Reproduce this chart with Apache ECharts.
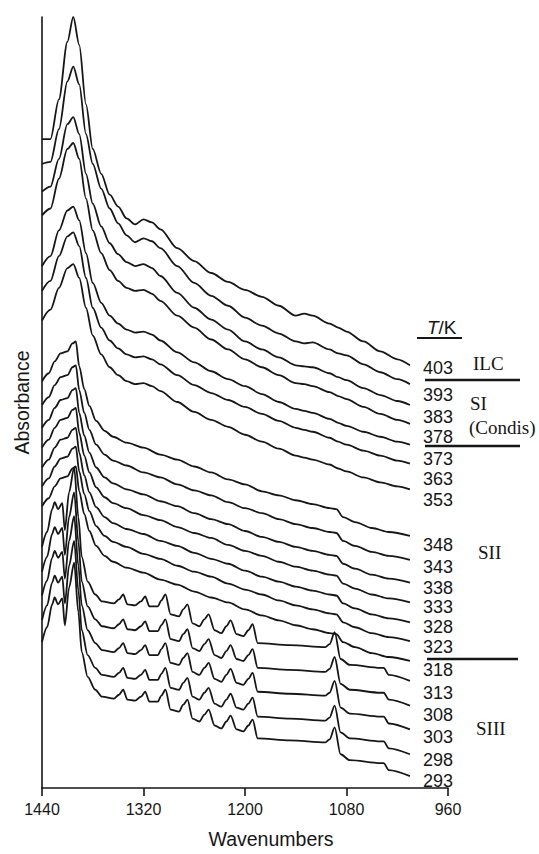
<!DOCTYPE html>
<html><head><meta charset="utf-8">
<script src="https://cdn.jsdelivr.net/npm/echarts@6/dist/echarts.min.js"></script>
<style>html,body{margin:0;padding:0;background:#fff;}#c{width:539px;height:854px;}</style>
</head><body><div id="c"></div>
<script>
// Wavenumber grids (cm-1)
const wnA = [1440,1430,1420,1410,1403,1396,1388,1380,1370,1360,1350,1340,1330,1320,1310,1300,1280,1260,1240,1220,1200,1180,1160,1140,1130,1120,1100,1090,1080,1060,1040,1020,1005];
const wnII = [1440,1432,1425,1418,1410,1404,1400,1396,1390,1384,1376,1366,1356,1340,1320,1300,1280,1260,1240,1220,1200,1180,1160,1140,1120,1100,1092,1084,1070,1050,1030,1005];
const wnIII = [1440,1434,1428,1425,1421,1416,1413,1408,1402,1397,1393,1386,1377,1369,1355,1349,1344,1339,1330,1323,1318,1313,1303,1299,1294,1288,1278,1273,1268,1262,1254,1248,1243,1236,1228,1222,1217,1210,1202,1196,1191,1185,1147,1105,1100,1094,1087,1076,1040,1036,1030,1005];

// Absorbance (arbitrary units, stacked)
const abs403 = [654,654,694,752,777,749,689,644,619,598,586,574,568,573,570,563,544,531,519,510,502,495,486,476,478,476,468,464,460,450,440,432,426];
const abs393 = [629,631,664,712,727,709,659,629,604,584,569,557,550,554,551,544,526,509,496,486,474,466,458,450,448,449,442,438,436,427,419,412,407];
const abs383 = [601,606,634,669,676,659,619,589,566,549,538,530,526,528,524,516,499,484,472,462,450,442,434,426,425,424,418,414,411,403,396,390,386];
const abs378 = [577,584,614,644,650,634,594,562,539,522,511,504,501,502,498,491,476,464,452,442,432,424,416,408,407,405,399,395,392,384,377,371,367];
const abs373 = [526,536,562,582,586,572,539,509,489,476,468,462,459,460,457,451,439,429,420,412,405,397,389,382,380,378,372,368,365,359,354,349,346];
const abs363 = [501,511,536,556,560,546,514,484,464,451,443,437,434,435,432,427,416,406,398,391,384,377,370,363,361,359,353,349,346,340,335,330,327];
const abs353 = [471,482,504,524,528,514,484,456,437,424,416,410,407,408,405,400,389,379,371,364,356,349,342,335,333,331,326,322,319,313,308,304,301];

const abs348 = [410,418,430,438,440,448,450,425,402,385,370,360,354,348,343,336,331,324,318,311,306,299,295,290,286,282,281,273,268,262,258,254];
const abs343 = [386,394,406,414,416,424,426,401,378,361,346,336,330,325,318,313,306,300,295,288,282,277,271,266,262,258,257,249,244,238,234,230];
const abs338 = [363,371,383,391,393,401,403,378,355,338,323,313,307,301,296,289,284,277,271,266,259,253,248,243,239,235,234,226,221,215,211,207];
const abs333 = [343,351,363,371,373,381,383,358,335,318,303,293,287,282,275,270,263,257,252,245,239,234,228,223,219,215,214,206,201,195,191,187];
const abs328 = [323,331,343,351,353,361,363,338,315,298,283,273,267,261,256,249,244,237,231,226,219,213,208,203,199,195,194,186,181,175,171,167];
const abs323 = [304,312,324,332,334,342,344,319,296,279,264,254,248,243,236,231,224,218,213,206,200,195,189,184,180,176,175,167,162,156,152,148];
const abs318 = [284,292,304,312,314,322,324,299,276,259,244,234,228,222,217,210,205,198,192,187,180,174,169,164,160,156,155,147,142,136,132,128];

const abs313 = [243,258,281,288,281,287,260,298,323,273,233,208,195,188,186,190,195,185,184,188,193,183,183,189,195,175,173,180,185,166,163,170,175,159,156,163,169,155,153,159,165,146,144,142,145,157,130,124,121,121,114,108];
const abs308 = [218,233,256,263,256,262,235,273,298,248,208,183,170,163,161,165,170,160,159,163,168,158,158,164,170,150,148,155,160,141,138,145,150,134,131,138,144,130,128,134,140,121,119,117,120,132,105,99,96,96,89,83];
const abs303 = [194,209,232,239,232,238,211,249,274,224,184,159,146,139,137,141,146,136,135,139,144,134,134,140,146,126,124,131,136,117,114,121,126,110,107,114,120,106,104,110,116,97,95,93,96,108,81,75,72,72,65,59];
const abs298 = [169,184,207,214,207,213,186,224,249,199,159,134,121,114,112,116,121,111,110,114,119,109,109,115,121,101,99,106,111,92,89,96,101,85,82,89,95,81,79,85,91,72,70,68,71,83,56,50,47,47,40,34];
const abs293 = [147,162,185,192,185,191,164,202,227,177,137,112,99,92,90,94,99,89,88,92,97,87,87,93,99,79,77,84,89,70,67,74,79,63,60,67,73,59,57,63,69,50,48,46,49,61,34,28,25,25,18,12];

const temps = ['403','393','383','378','373','363','353','348','343','338','333','328','323','318','313','308','303','298','293'];
const spectra = [
  [wnA,abs403],[wnA,abs393],[wnA,abs383],[wnA,abs378],[wnA,abs373],[wnA,abs363],[wnA,abs353],
  [wnII,abs348],[wnII,abs343],[wnII,abs338],[wnII,abs333],[wnII,abs328],[wnII,abs323],[wnII,abs318],
  [wnIII,abs313],[wnIII,abs308],[wnIII,abs303],[wnIII,abs298],[wnIII,abs293]
];
const xTicks = [1440,1320,1200,1080,960];

// layout (pixels) for annotations
const labelY = [368,395,417,437,459,479,500,545,567,588,607,627,647,670,693,715,737,760,781];
const SANS = '"Liberation Sans", Arial, Helvetica, sans-serif';
const SERIF = '"Liberation Serif", "Times New Roman", serif';
const INK = '#161616';

const chart = echarts.init(document.getElementById('c'), null, {renderer:'svg'});

const series = spectra.map((s, k) => ({
  name: temps[k] + ' K',
  type: 'line',
  data: s[0].map((w, i) => [w, s[1][i]]),
  showSymbol: false,
  symbol: 'none',
  smooth: 0.3,
  smoothMonotone: 'x',
  lineStyle: {color: INK, width: 1.8},
  silent: true,
  z: 3
}));

const txt = (s, x, y, font, rich) => ({type:'text', x, y, style:Object.assign({text:s, x:0, y:0, fill:INK, font, textAlign:'left', textVerticalAlign:'middle', align:'left', verticalAlign:'middle'}, rich ? {rich} : {})});
const graphics = [];
temps.forEach((t, k) => graphics.push(txt(t, 423, labelY[k], '18px ' + SANS)));
graphics.push(txt('{i|T}/K', 427, 327, '19px ' + SANS, {i:{fontStyle:'italic', fontSize:19, fontFamily:SANS, fill:INK, color:INK}}));
graphics.push(txt('ILC', 473, 363, '19px ' + SERIF));
graphics.push(txt('SI', 470, 403, '19px ' + SERIF));
graphics.push(txt('(Condis)', 469, 427, '19px ' + SERIF));
graphics.push(txt('SII', 478, 552, '19px ' + SERIF));
graphics.push(txt('SIII', 476, 728, '19px ' + SERIF));
const hline = (x1, x2, y, w) => ({type:'line', shape:{x1, y1:y, x2, y2:y}, style:{stroke:INK, lineWidth:w}});
graphics.push(hline(417, 462, 338, 2));
graphics.push(hline(425, 520, 380, 2.5));
graphics.push(hline(425, 520, 446, 2.5));
graphics.push(hline(427, 518, 659, 2.5));

chart.setOption({
  animation: false,
  backgroundColor: '#ffffff',
  grid: {left:42, right:91, top:17, bottom:60, containLabel:false},
  xAxis: {
    type:'value', min:960, max:1440, interval:120, inverse:true,
    axisLine:{show:true, onZero:false, lineStyle:{color:INK, width:1.6}},
    axisTick:{show:true, length:8, inside:false, lineStyle:{color:INK, width:1.6}},
    axisLabel:{color:INK, fontSize:16, fontFamily:SANS, margin:13,
      formatter: v => xTicks.indexOf(v) >= 0 ? String(v) : ''},
    splitLine:{show:false},
    name:'Wavenumbers', nameLocation:'middle', nameGap:41,
    nameTextStyle:{color:INK, fontSize:19.5, fontFamily:SANS, padding:[0,0,0,52]}
  },
  yAxis: {
    type:'value', min:0, max:777,
    axisLine:{show:true, lineStyle:{color:INK, width:1.6}},
    axisTick:{show:false}, axisLabel:{show:false}, splitLine:{show:false},
    name:'Absorbance', nameLocation:'middle', nameGap:10,
    nameTextStyle:{color:INK, fontSize:19.5, fontFamily:SANS}
  },
  series,
  graphic: {elements: graphics}
});
</script></body></html>
